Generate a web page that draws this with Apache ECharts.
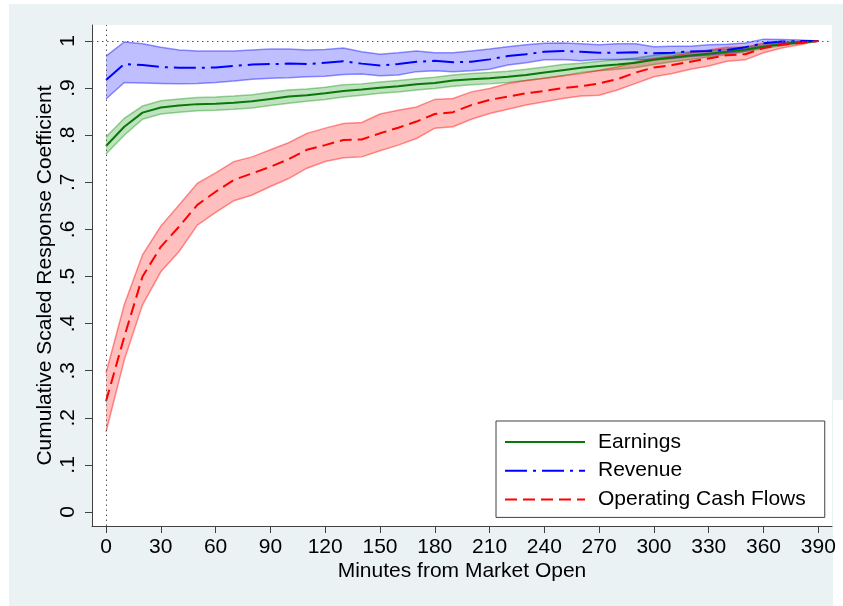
<!DOCTYPE html>
<html>
<head>
<meta charset="utf-8">
<script src="https://cdn.jsdelivr.net/npm/echarts@6/dist/echarts.min.js"></script>
<style>
  html, body { margin: 0; padding: 0; background: #fff; }
  #chart { width: 843px; height: 606px; }
</style>
</head>
<body>
<div id="chart"></div>
<script>
// Minutes after the market opens (10-minute steps)
const minutes = [0, 10, 20, 30, 40, 50, 60, 70, 80, 90, 100, 110, 120, 130, 140, 150, 160, 170, 180, 190,
  200, 210, 220, 230, 240, 250, 260, 270, 280, 290, 300, 310, 320, 330, 340, 350, 360, 370, 380, 390];

// Earnings: point estimate and confidence band
const earn   = [.777, .818, .848, .859, .863, .866, .867, .869, .872, .877, .882, .885, .889, .894, .897, .901, .904, .908, .911, .916,
  .919, .921, .924, .928, .933, .938, .943, .947, .950, .954, .960, .965, .969, .973, .977, .982, .988, .993, .997, 1];
const earnLo = [.760, .800, .834, .845, .849, .852, .853, .855, .858, .863, .868, .872, .876, .881, .885, .889, .892, .896, .899, .904,
  .907, .909, .912, .916, .921, .926, .933, .937, .940, .944, .950, .956, .961, .966, .971, .977, .984, .990, .995, 1];
const earnHi = [.796, .836, .862, .873, .877, .880, .881, .883, .886, .891, .896, .898, .902, .907, .909, .913, .916, .920, .923, .928,
  .931, .933, .936, .940, .945, .950, .953, .957, .960, .964, .970, .974, .977, .980, .983, .987, .992, .996, .999, 1];

// Revenue: point estimate and confidence band
const rev   = [.917, .951, .949, .945, .943, .943, .944, .947, .950, .951, .952, .951, .954, .957, .952, .948, .951, .956, .958, .955,
  .956, .961, .968, .972, .977, .979, .977, .975, .975, .976, .974, .975, .978, .979, .981, .987, .995, .999, 1.0, 1];
const revLo = [.877, .912, .911, .910, .909, .910, .912, .915, .919, .921, .922, .924, .925, .929, .930, .926, .928, .935, .937, .935,
  .937, .940, .949, .954, .960, .961, .958, .961, .961, .961, .961, .963, .967, .970, .974, .979, .988, .994, .998, 1];
const revHi = [.968, .998, .994, .987, .981, .979, .979, .979, .981, .983, .983, .981, .982, .985, .977, .972, .975, .979, .975, .975,
  .979, .983, .988, .992, .995, .996, .994, .992, .994, .994, .988, .989, .989, .992, .993, .996, 1.004, 1.003, 1.002, 1];

// Operating cash flows: point estimate and confidence band
const ocf   = [.235, .372, .500, .563, .606, .652, .680, .705, .719, .733, .749, .769, .779, .790, .791, .804, .816, .829, .845, .849,
  .864, .875, .882, .889, .894, .900, .904, .910, .919, .933, .944, .949, .956, .963, .970, .972, .985, .992, .996, 1];
const ocfLo = [.170, .323, .440, .510, .553, .609, .636, .661, .673, .691, .708, .730, .744, .752, .754, .767, .779, .793, .815, .818,
  .834, .846, .855, .864, .871, .878, .883, .885, .896, .910, .924, .931, .940, .947, .957, .960, .975, .985, .992, 1];
const ocfHi = [.295, .440, .546, .607, .652, .698, .720, .744, .754, .769, .784, .804, .815, .825, .827, .845, .853, .860, .876, .878,
  .892, .899, .910, .916, .921, .926, .931, .938, .945, .956, .963, .968, .975, .981, .987, .987, .996, .998, .999, 1];

// Axis ticks and their labels
const xTicks = [0, 30, 60, 90, 120, 150, 180, 210, 240, 270, 300, 330, 360, 390];
const yTicks = [0, 0.1, 0.2, 0.3, 0.4, 0.5, 0.6, 0.7, 0.8, 0.9, 1];
const yTickLabels = ['0', '.1', '.2', '.3', '.4', '.5', '.6', '.7', '.8', '.9', '1'];

const FONT = '"Liberation Sans", Arial, sans-serif';

function pairs(vals) { return minutes.map((m, i) => [m, vals[i]]); }

// Shaded confidence band drawn as one polygon between the lower and upper edges,
// with both edges outlined in a stronger tint.
function band(key, lo, hi, fill, edge) {
  return {
    name: key, type: 'custom', silent: true, clip: true,
    data: minutes.map((m, i) => [m, lo[i], hi[i]]),
    encode: { x: 0, y: [1, 2] },
    renderItem: (params, api) => {
      if (params.dataIndex !== 0) return null;
      const lower = minutes.map((m, i) => api.coord([m, lo[i]]));
      const upper = minutes.map((m, i) => api.coord([m, hi[i]]));
      return {
        type: 'group',
        children: [
          { type: 'polygon', shape: { points: lower.concat(upper.slice().reverse()) }, style: { fill: fill } },
          { type: 'polyline', shape: { points: lower }, style: { fill: null, stroke: edge, lineWidth: 1.5 } },
          { type: 'polyline', shape: { points: upper }, style: { fill: null, stroke: edge, lineWidth: 1.5 } }
        ]
      };
    }
  };
}

const chart = echarts.init(document.getElementById('chart'), null, { renderer: 'canvas' });

chart.setOption({
  animation: false,
  backgroundColor: '#ffffff',
  textStyle: { fontFamily: FONT },
  graphic: [
    { type: 'rect', z: -10, silent: true, shape: { x: 9, y: 4, width: 824, height: 602 }, style: { fill: '#EAF2F3' } },
    { type: 'rect', z: -10, silent: true, shape: { x: 833, y: 4, width: 10, height: 396 }, style: { fill: '#EAF2F3' } }
  ],
  grid: {
    left: 92, top: 25, right: 11, bottom: 80,
    show: true, backgroundColor: '#ffffff', borderWidth: 0
  },
  legend: {
    orient: 'vertical',
    left: 496, top: 421,
    data: ['Earnings', 'Revenue', 'Operating Cash Flows'],
    itemWidth: 80, itemHeight: 20, itemGap: 6.7,
    padding: [10, 19, 7, 8],
    borderColor: '#404040', borderWidth: 1, borderRadius: 0,
    backgroundColor: '#ffffff',
    itemStyle: { color: 'rgba(0,0,0,0)', borderWidth: 0, opacity: 0 },
    textStyle: { fontFamily: FONT, fontSize: 21, color: '#000', lineHeight: 22, padding: [0, 0, 0, 8] }
  },
  xAxis: {
    type: 'value',
    min: -7.67, max: 397.5,
    name: 'Minutes from Market Open',
    nameLocation: 'middle', nameGap: 35, nameMoveOverlap: false,
    nameTextStyle: { fontFamily: FONT, fontSize: 21, color: '#000', verticalAlign: 'top' },
    axisLine: { show: true, onZero: false, lineStyle: { color: '#404040', width: 1 } },
    axisTick: { show: true, length: 7, inside: false, customValues: xTicks, lineStyle: { color: '#404040', width: 1 } },
    axisLabel: { customValues: xTicks, fontFamily: FONT, fontSize: 21, color: '#000', margin: 11 },
    splitLine: { show: false }
  },
  yAxis: {
    type: 'value',
    min: -0.0297, max: 1.034,
    name: 'Cumulative Scaled Response Coefficient',
    nameLocation: 'middle', nameGap: 36, nameRotate: 90, nameMoveOverlap: false,
    nameTextStyle: { fontFamily: FONT, fontSize: 21, color: '#000' },
    axisLine: { show: true, onZero: false, lineStyle: { color: '#404040', width: 1 } },
    axisTick: { show: true, length: 7, inside: false, customValues: yTicks, lineStyle: { color: '#404040', width: 1 } },
    axisLabel: {
      customValues: yTicks, rotate: 90, margin: 13,
      fontFamily: FONT, fontSize: 21, color: '#000',
      formatter: (v) => {
        const i = yTicks.findIndex(t => Math.abs(t - v) < 1e-9);
        return i >= 0 ? yTickLabels[i] : '';
      }
    },
    splitLine: { show: false }
  },
  series: [
    band('earnBand', earnLo, earnHi, 'rgba(0,140,0,0.25)', 'rgba(0,140,0,0.38)'),
    {
      name: 'Earnings', type: 'line', data: pairs(earn), symbol: 'none',
      lineStyle: { color: '#087808', width: 2 }, itemStyle: { color: '#087808' },
      markLine: {
        silent: true, symbol: 'none', label: { show: false },
        lineStyle: { color: '#555', width: 1, type: [1.5, 3.5] },
        data: [{ yAxis: 1 }, { xAxis: 0 }]
      }
    },
    band('revBand', revLo, revHi, 'rgba(0,0,255,0.25)', 'rgba(0,0,255,0.42)'),
    {
      name: 'Revenue', type: 'line', data: pairs(rev), symbol: 'none',
      lineStyle: { color: '#0000FF', width: 2, type: [22, 6, 3, 6] }, itemStyle: { color: '#0000FF' }
    },
    band('ocfBand', ocfLo, ocfHi, 'rgba(255,0,0,0.25)', 'rgba(255,0,0,0.42)'),
    {
      name: 'Operating Cash Flows', type: 'line', data: pairs(ocf), symbol: 'none',
      lineStyle: { color: '#FF0000', width: 2, type: [12, 6] }, itemStyle: { color: '#FF0000' }
    }
  ]
});
</script>
</body>
</html>
